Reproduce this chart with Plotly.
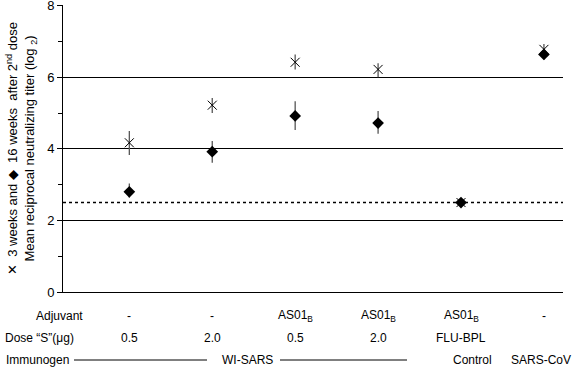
import plotly.graph_objects as go

# ---- data ----
groups = [1, 2, 3, 4, 5, 6]
wk3_mean = [4.17, 5.22, 6.42, 6.22, 2.5, 6.78]
wk3_err_plus = [0.33, 0.2, 0.22, 0.17, 0.0, 0.15]
wk3_err_minus = [0.34, 0.22, 0.2, 0.22, 0.0, 0.1]
wk16_mean = [2.8, 3.92, 4.92, 4.72, 2.5, 6.64]
wk16_err_plus = [0.23, 0.3, 0.41, 0.34, 0.0, 0.14]
wk16_err_minus = [0.16, 0.31, 0.39, 0.3, 0.0, 0.14]
detection_limit = 2.5

adjuvant = ["-", "-", "AS01<sub>B</sub>", "AS01<sub>B</sub>", "AS01<sub>B</sub>", "-"]
dose = ["0.5", "2.0", "0.5", "2.0", "FLU-BPL", ""]
row_labels = ["Adjuvant", "Dose \u201cS\u201d(\u03bcg)", "Immunogen"]
immunogen_names = ["WI-SARS", "Control", "SARS-CoV"]
immunogen_pos = [2.43, 5.14, 5.96]

y_ticks = [0, 2, 4, 6, 8]

FONT = "Liberation Sans, Arial, sans-serif"
W, H = 575, 368
L, R, T, B = 63, 12, 5, 76
PW = W - L - R
PH = H - T - B

fig = go.Figure()

fig.add_trace(go.Scatter(
    x=groups, y=wk3_mean, mode="markers", name="3 weeks",
    marker=dict(symbol="x-thin-open", size=9, color="black",
                line=dict(width=1, color="black")),
    error_y=dict(type="data", array=wk3_err_plus, arrayminus=wk3_err_minus,
                 width=0, thickness=1.3, color="#555555"),
))
fig.add_trace(go.Scatter(
    x=groups, y=wk16_mean, mode="markers", name="16 weeks",
    marker=dict(symbol="diamond", size=9, color="black"),
    error_y=dict(type="data", array=wk16_err_plus, arrayminus=wk16_err_minus,
                 width=0, thickness=1.3, color="#555555"),
))

# detection limit dotted line
fig.add_shape(type="line", xref="paper", yref="y", x0=0, x1=1,
              y0=detection_limit, y1=detection_limit,
              line=dict(color="black", width=1.5, dash="dot"), layer="below")

annotations = []
row_y = [-24, -46, -68]
for gx, a in zip(groups, adjuvant):
    annotations.append(dict(x=gx, y=0, xref="x", yref="paper", text=a,
                            showarrow=False, yshift=row_y[0], yanchor="middle",
                            font=dict(size=12, family=FONT, color="black")))
for gx, d in zip(groups, dose):
    if d:
        annotations.append(dict(x=gx, y=0, xref="x", yref="paper", text=d,
                                showarrow=False, yshift=row_y[1], yanchor="middle",
                                font=dict(size=12, family=FONT, color="black")))
label_centers = [59, 39, 37]
for lbl, ry, cx in zip(row_labels, row_y, label_centers):
    annotations.append(dict(x=0, y=0, xref="paper", yref="paper", text=lbl,
                            showarrow=False, xanchor="center", xshift=cx - L,
                            yshift=ry, yanchor="middle",
                            font=dict(size=12, family=FONT, color="black")))
for name, gx in zip(immunogen_names, immunogen_pos):
    annotations.append(dict(x=gx, y=0, xref="x", yref="paper", text=name,
                            showarrow=False, yshift=row_y[2], yanchor="middle",
                            font=dict(size=12, family=FONT, color="black")))
fig.update_layout(annotations=annotations)

# immunogen bracket lines for WI-SARS
ly = -(68) / PH
for x0p, x1p in [(74, 207), (280, 407)]:
    fig.add_shape(type="line", xref="paper", yref="paper",
                  x0=(x0p - L) / PW, x1=(x1p - L) / PW, y0=ly, y1=ly,
                  line=dict(color="black", width=1), layer="below")

fig.update_layout(
    width=W, height=H,
    margin=dict(l=L, r=R, t=T, b=B, autoexpand=False),
    paper_bgcolor="white", plot_bgcolor="white",
    showlegend=False,
    font=dict(family=FONT, size=12, color="black"),
    xaxis=dict(range=[0.2, 6.23], showticklabels=False, ticks="",
               showgrid=False, zeroline=False, showline=True,
               linecolor="black", linewidth=1, automargin=False),
    yaxis=dict(range=[0, 8.02], tickvals=y_ticks, ticks="outside", ticklen=5,
               tickcolor="black", showgrid=True, gridcolor="black",
               gridwidth=1, zeroline=False, showline=True, linecolor="black",
               linewidth=1, tickfont=dict(size=13, family=FONT),
               automargin=False, ticklabeloverflow="allow",
               minor=dict(dtick=1, ticks="outside", ticklen=4,
                          tickcolor="black", showgrid=False),
               title=dict(text="\u2715  3 weeks and \u25c6  16 weeks  after 2<sup>nd</sup> dose<br>"
                               "Mean reciprocal neutralizing titer (log <sub>2</sub>)",
                          font=dict(size=13, family=FONT), standoff=9)),
)

fig.write_html("out.html", config={"displayModeBar": False},
               post_script="document.body.style.margin='0';document.body.style.overflow='hidden';")
